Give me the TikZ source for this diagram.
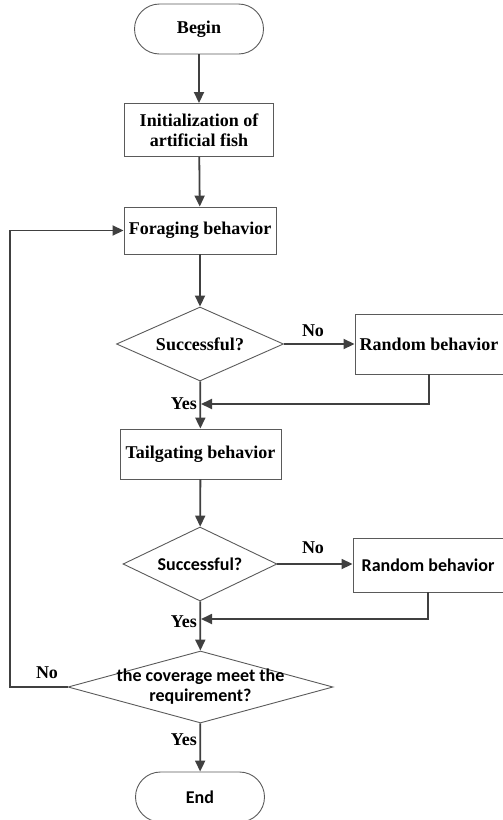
\documentclass[tikz,border=0pt]{standalone}
\usepackage{fontspec}
\setmainfont{Liberation Serif}
\newfontfamily\calibrifont{Carlito}
\usepackage{tikz}
\usetikzlibrary{shapes.geometric, arrows.meta}
\definecolor{linegray}{HTML}{404040}
\definecolor{boxgray}{HTML}{5A5A5A}
\tikzset{
  serif/.style={font=\bfseries\fontsize{18}{20}\selectfont},
  sans/.style={font=\calibrifont\bfseries\fontsize{18}{20}\selectfont},
  terminal/.style={draw=boxgray, line width=0.9pt, rectangle, rounded corners=25pt, minimum width=129pt, minimum height=50pt, inner sep=0pt},
  process/.style={draw=boxgray, line width=0.9pt, rectangle, align=center, inner sep=0pt},
  decision/.style={draw=boxgray, line width=0.9pt, diamond, inner sep=0pt},
  flow/.style={line width=1.8pt, draw=linegray, -{Triangle[length=11pt, width=10pt]}},
  tag/.style={serif, inner sep=0pt}
}

\begin{document}
\begin{tikzpicture}[x=1pt, y=-1pt]
		\useasboundingbox (0,0) rectangle (503,820);
		% main column
		\node[terminal, serif] (begin) at (199,29) {Begin};
		\node[process, serif, minimum width=149pt, minimum height=53pt] (init) at (199,130) {Initialization of\\artificial fish};
		\node[process, serif, minimum width=152pt, minimum height=47pt] (forage) at (200,230.5) {Foraging behavior};
		\node[decision, minimum width=167pt, minimum height=74pt] (succ1) at (200,344) {};
		\node[serif] (succ1text) at (succ1) {Successful?};
		\node[process, serif, minimum width=148pt, minimum height=60pt] (rand1) at (429,344) {Random behavior};
		\node[process, serif, minimum width=161pt, minimum height=50pt] (tail) at (200.5,454) {Tailgating behavior};
		\node[decision, minimum width=154pt, minimum height=74pt] (succ2) at (200,564) {};
		\node[sans] (succ2text) at (succ2) {Successful?};
		\node[process, sans, minimum width=150pt, minimum height=54pt] (rand2) at (428,565) {Random behavior};
		\node[decision, minimum width=265pt, minimum height=72pt] (cover) at (200.5,687) {};
		\node[sans, align=center] (covertext) at (cover) {the coverage meet the\\requirement?};
		\node[terminal, sans] (end) at (200,797) {End};
		\coordinate (join1) at (201,404);
		\coordinate (join2) at (201,619);
		\coordinate (loop) at (10,687);
		% connectors
		\draw[flow] (begin) -- (init);
		\draw[flow] (init) -- (forage);
		\draw[flow] (forage) -- (succ1);
		\draw[flow] (succ1.east) -- (succ1.east -| rand1.west);
		\draw[flow] (rand1.south) |- (join1);
		\draw[flow] (succ1) -- (tail);
		\draw[flow] (tail) -- (succ2);
		\draw[flow] (succ2.east) -- (succ2.east -| rand2.west);
		\draw[flow] (rand2.south) |- (join2);
		\draw[flow] (succ2) -- (cover);
		\draw[flow] (cover) -- (end);
		\draw[flow] (cover.west) -- (loop) |- (forage.west);
		% labels
		\node[tag] (no1) at (313,331) {No};
		\node[tag, anchor=east] (yes1) at (197,404) {Yes};
		\node[tag] (no2) at (313,548) {No};
		\node[tag, anchor=east] (yes2) at (197,622) {Yes};
		\node[tag] (no3) at (47,673) {No};
		\node[tag, anchor=east] (yes3) at (197,740) {Yes};
	\end{tikzpicture}
\end{document}
